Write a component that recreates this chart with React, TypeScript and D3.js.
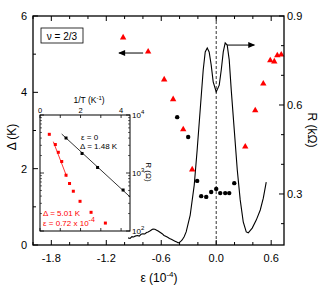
import React from "react";
import * as d3 from "d3";

// Main plot: gap Δ vs strain ε (left axis), R vs ε (right axis)
const triEps = [-1.016, -0.743, -0.568, -0.47, -0.36, -0.262, 0.317, 0.426, 0.514, 0.59, 0.634, 0.667, 0.71];
const triDelta = [5.45, 5.08, 4.35, 3.83, 3.04, 1.99, 2.59, 3.54, 4.24, 4.85, 4.82, 4.98, 5.0];

const dotEps = [-0.426, -0.306, -0.208, -0.164, -0.109, -0.055, 0.0, 0.044, 0.098, 0.142, 0.197];
const dotDelta = [3.35, 2.83, 1.68, 1.28, 1.26, 1.39, 1.47, 1.36, 1.36, 1.36, 1.62];

const curveEps = [
  -0.962, -0.94, -0.92, -0.9, -0.885, -0.86, -0.84, -0.82, -0.8, -0.78, -0.76, -0.743, -0.72, -0.7, -0.689,
  -0.67, -0.65, -0.634, -0.61, -0.59, -0.57, -0.557, -0.53, -0.51, -0.49, -0.47, -0.45, -0.43, -0.415, -0.4,
  -0.385, -0.372, -0.35, -0.328, -0.284, -0.24, -0.208, -0.175, -0.142, -0.12, -0.098, -0.077, -0.055, -0.033,
  0.0, 0.033, 0.055, 0.077, 0.098, 0.12, 0.142, 0.164, 0.197, 0.23, 0.262, 0.295, 0.328, 0.35, 0.393, 0.437,
  0.481, 0.514, 0.546,
];
const curveR = [
  0.152, 0.15, 0.156, 0.155, 0.158, 0.16, 0.158, 0.164, 0.166, 0.165, 0.17, 0.172, 0.176, 0.18, 0.182,
  0.181, 0.178, 0.175, 0.17, 0.166, 0.16, 0.158, 0.154, 0.15, 0.147, 0.144, 0.141, 0.138, 0.135, 0.137,
  0.141, 0.145, 0.156, 0.172, 0.229, 0.33, 0.448, 0.583, 0.718, 0.779, 0.792, 0.779, 0.735, 0.678,
  0.644, 0.667, 0.718, 0.779, 0.809, 0.802, 0.752, 0.651, 0.516, 0.381, 0.28, 0.206, 0.172, 0.169, 0.185, 0.212,
  0.246, 0.286, 0.34,
];

const xTickMajor = [-1.8, -1.2, -0.6, 0.0, 0.6];
const xTickMinor = [-2.0, -1.6, -1.4, -1.0, -0.8, -0.4, -0.2, 0.2, 0.4];
const yLTickMajor = [0, 2, 4, 6];
const yLTickMinor = [1, 3, 5];
const yRTickMajor = [0.3, 0.6, 0.9];
const yRTickMinor = [0.2, 0.4, 0.5, 0.7, 0.8];

// Inset: Arrhenius plots, R vs 1/T
const blackInvT = [1.284, 2.074, 2.84, 4.1];
const blackR = [4010, 2170, 1245, 509];
const blackFitInvT = [1.07, 4.44];
const blackFitR = [4700, 388];

const redInvT = [0.459, 0.756, 0.904, 1.072, 1.284, 1.457, 1.644, 1.975, 2.519, 3.225];
const redR = [4645, 3097, 2275, 1578, 916, 659, 485, 325, 210, 137];
const redFitInvT = [0.657, 1.32];
const redFitR = [3467, 863];

const insetXTicks = [0, 1, 2, 3, 4];
const insetXLabels = [0, 2, 4];

export default function App() {
  const x = d3.scaleLinear().domain([-2.0, 0.74]).range([33, 284]);
  const yL = d3.scaleLinear().domain([0, 6]).range([245, 16]);
  const yR = d3.scaleLinear().domain([0.128, 0.9]).range([245, 16]);

  const ix = d3.scaleLinear().domain([0, 4.44]).range([40, 130]);
  const iy = d3.scaleLog().domain([100, 10000]).range([231, 115]);

  const font = "'Liberation Sans', Arial, sans-serif";
  const [X0, X1] = x.range();
  const [Y0, Y1] = yL.range();

  const curve = d3
    .line<number>()
    .x((_, i) => x(curveEps[i]))
    .y((d) => yR(d))(curveR) as string;

  const tri = (cx: number, cy: number) => {
    const s = 3.2;
    return `M${cx},${cy - s}L${cx + s},${cy + s * 0.75}L${cx - s},${cy + s * 0.75}Z`;
  };

  const blackFit = d3.line<number>().x((d) => ix(d)).y((_, i) => iy(blackFitR[i]))(blackFitInvT) as string;
  const redFit = d3.line<number>().x((d) => ix(d)).y((_, i) => iy(redFitR[i]))(redFitInvT) as string;

  const minorLog: number[] = [];
  for (let dec = 100; dec < 10000; dec *= 10) {
    for (let k = 2; k <= 9; k++) minorLog.push(dec * k);
  }
  const majorLog = [100, 1000, 10000];

  const [IX0, IX1] = ix.range();
  const [IY0, IY1] = iy.range();

  return (
    <svg width={321} height={286} style={{ position: "absolute", left: 0, top: 0, background: "#fff" }} fontFamily={font}>
      <rect width={321} height={286} fill="#fff" />
      {/* dashed zero line */}
      <line x1={x(0)} x2={x(0)} y1={Y1} y2={Y0} stroke="#000" strokeWidth={0.8} strokeDasharray="3,2" />

      {/* R curve */}
      <path d={curve} fill="none" stroke="#000" strokeWidth={1.1} />

      {/* red triangles */}
      {triEps.map((e, i) => (
        <path key={"t" + i} d={tri(x(e), yL(triDelta[i]))} fill="#ff0000" />
      ))}
      {/* black dots */}
      {dotEps.map((e, i) => (
        <circle key={"d" + i} cx={x(e)} cy={yL(dotDelta[i])} r={2.2} fill="#000" />
      ))}

      {/* arrows */}
      <line x1={x(-0.798)} x2={x(-1.06)} y1={yL(5.03)} y2={yL(5.03)} stroke="#000" strokeWidth={1} />
      <path d={`M${x(-1.071)},${yL(5.03)}l7,-3l0,6z`} fill="#000" />
      <line x1={x(0.12)} x2={x(0.415)} y1={yR(0.802)} y2={yR(0.802)} stroke="#000" strokeWidth={1} />
      <path d={`M${x(0.426)},${yR(0.802)}l-7,-3l0,6z`} fill="#000" />

      {/* frame */}
      <rect x={X0} y={Y1} width={X1 - X0} height={Y0 - Y1} fill="none" stroke="#000" strokeWidth={1.3} />

      {/* x ticks bottom & top */}
      {xTickMajor.map((t) => (
        <g key={"xm" + t}>
          <line x1={x(t)} x2={x(t)} y1={Y0} y2={Y0 - 5} stroke="#000" strokeWidth={1} />
          <line x1={x(t)} x2={x(t)} y1={Y1} y2={Y1 + 5} stroke="#000" strokeWidth={1} />
          <text x={x(t)} y={261.5} fontSize={11} textAnchor="middle" fill="#000">
            {t.toFixed(1)}
          </text>
        </g>
      ))}
      {xTickMinor.map((t) => (
        <g key={"xn" + t}>
          <line x1={x(t)} x2={x(t)} y1={Y0} y2={Y0 - 3} stroke="#000" strokeWidth={1} />
          <line x1={x(t)} x2={x(t)} y1={Y1} y2={Y1 + 3} stroke="#000" strokeWidth={1} />
        </g>
      ))}
      {/* left ticks */}
      {yLTickMajor.map((t) => (
        <g key={"yl" + t}>
          <line x1={X0} x2={X0 + 5} y1={yL(t)} y2={yL(t)} stroke="#000" strokeWidth={1} />
          <text x={27} y={yL(t) + 4} fontSize={11} textAnchor="end" fill="#000">
            {t}
          </text>
        </g>
      ))}
      {yLTickMinor.map((t) => (
        <line key={"yln" + t} x1={X0} x2={X0 + 3} y1={yL(t)} y2={yL(t)} stroke="#000" strokeWidth={1} />
      ))}
      {/* right ticks */}
      {yRTickMajor.map((t) => (
        <g key={"yr" + t}>
          <line x1={X1} x2={X1 - 5} y1={yR(t)} y2={yR(t)} stroke="#000" strokeWidth={1} />
          <text x={287} y={yR(t) + 4} fontSize={11} textAnchor="start" fill="#000">
            {t.toFixed(1)}
          </text>
        </g>
      ))}
      {yRTickMinor.map((t) => (
        <line key={"yrn" + t} x1={X1} x2={X1 - 3} y1={yR(t)} y2={yR(t)} stroke="#000" strokeWidth={1} />
      ))}

      {/* axis titles */}
      <text x={159} y={282} fontSize={12} textAnchor="middle" fill="#000">
        ε (10
        <tspan dy={-5} fontSize={8}>-4</tspan>
        <tspan dy={5}>)</tspan>
      </text>
      <text transform="translate(16,137) rotate(-90)" fontSize={12} textAnchor="middle" fill="#000">
        Δ (K)
      </text>
      <text transform="translate(308,130) rotate(90)" fontSize={12} textAnchor="middle" fill="#000">
        R (kΩ)
      </text>

      {/* nu label */}
      <rect x={41} y={28} width={42} height={15} fill="#fff" stroke="#000" strokeWidth={0.8} />
      <text x={62} y={39.5} fontSize={10} textAnchor="middle" fill="#000">
        ν = 2/3
      </text>

      {/* inset */}
      <rect x={IX0} y={IY1} width={IX1 - IX0} height={IY0 - IY1} fill="#fff" stroke="#000" strokeWidth={1} />
      {insetXTicks.map((t) => (
        <g key={"ix" + t}>
          <line x1={ix(t)} x2={ix(t)} y1={IY1} y2={IY1 + 3} stroke="#000" strokeWidth={0.8} />
          <line x1={ix(t)} x2={ix(t)} y1={IY0} y2={IY0 - 3} stroke="#000" strokeWidth={0.8} />
        </g>
      ))}
      {insetXLabels.map((t) => (
        <text key={"ixl" + t} x={ix(t)} y={113} fontSize={7.5} textAnchor="middle" fill="#000">
          {t}
        </text>
      ))}
      <text x={89} y={103} fontSize={8.5} textAnchor="middle" fill="#000">
        1/T (K
        <tspan dy={-3.5} fontSize={6}>-1</tspan>
        <tspan dy={3.5}>)</tspan>
      </text>
      {majorLog.map((t) => (
        <g key={"iy" + t}>
          <line x1={IX1} x2={IX1 - 4} y1={iy(t)} y2={iy(t)} stroke="#000" strokeWidth={0.8} />
          <line x1={IX0} x2={IX0 + 4} y1={iy(t)} y2={iy(t)} stroke="#000" strokeWidth={0.8} />
        </g>
      ))}
      {minorLog.map((t) => (
        <g key={"iym" + t}>
          <line x1={IX1} x2={IX1 - 2} y1={iy(t)} y2={iy(t)} stroke="#000" strokeWidth={0.6} />
          <line x1={IX0} x2={IX0 + 2} y1={iy(t)} y2={iy(t)} stroke="#000" strokeWidth={0.6} />
        </g>
      ))}
      {majorLog.map((t) => (
        <text key={"iyl" + t} x={132} y={iy(t) + 3} fontSize={8} fill="#000">
          10
          <tspan dy={-4} fontSize={6}>{Math.round(Math.log10(t))}</tspan>
        </text>
      ))}
      <text transform="translate(146,172) rotate(90)" fontSize={8} textAnchor="middle" fill="#000">
        R (Ω)
      </text>

      <path d={blackFit} fill="none" stroke="#000" strokeWidth={0.8} />
      <path d={redFit} fill="none" stroke="#ff0000" strokeWidth={0.8} />
      {blackInvT.map((t, i) => (
        <rect key={"bp" + i} x={ix(t) - 1.5} y={iy(blackR[i]) - 1.5} width={3} height={3} fill="#000" />
      ))}
      {redInvT.map((t, i) => (
        <rect key={"rp" + i} x={ix(t) - 1.5} y={iy(redR[i]) - 1.5} width={3} height={3} fill="#ff0000" />
      ))}
      <text x={81} y={140} fontSize={8} fill="#000">
        ε = 0
      </text>
      <text x={80} y={149} fontSize={8} fill="#000">
        Δ = 1.48 K
      </text>
      <text x={43} y={216} fontSize={8} fill="#ff0000">
        Δ = 5.01 K
      </text>
      <text x={43} y={226} fontSize={8} fill="#ff0000">
        ε = 0.72 x 10
        <tspan dy={-4} fontSize={7}>-4</tspan>
      </text>
    </svg>
  );
}
